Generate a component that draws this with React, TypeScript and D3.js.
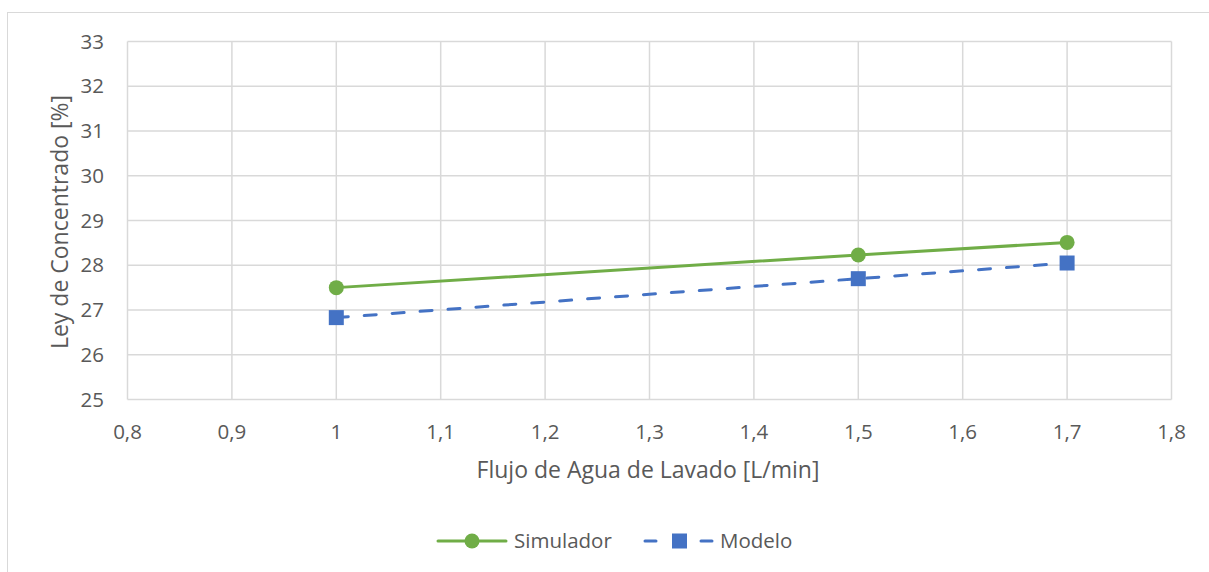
import React from "react";
import * as d3 from "d3";

const xTicks = [0.8, 0.9, 1.0, 1.1, 1.2, 1.3, 1.4, 1.5, 1.6, 1.7, 1.8];
const yTicks = [25, 26, 27, 28, 29, 30, 31, 32, 33];
const flujo = [1.0, 1.5, 1.7];
const simulador = [27.5, 28.23, 28.51];
const modelo = [26.83, 27.7, 28.05];
const xTitle = "Flujo de Agua de Lavado [L/min]";
const yTitle = "Ley de Concentrado [%]";

const W = 1209;
const H = 572;
const GREEN = "#70AD47";
const BLUE = "#4472C4";
const TEXT = "#595959";
const GRID = "#D9D9D9";
const FONT = "'Open Sans', 'Noto Sans', sans-serif";
const TICK_FS = 20.5;
const TITLE_FS = 23;

export default function App() {
  const x = d3.scaleLinear().domain([0.8, 1.8]).range([127.5, 1171.5]);
  const y = d3.scaleLinear().domain([25, 33]).range([399.5, 41.5]);
  const fmt = (v: number) => String(Math.round(v * 10) / 10).replace(".", ",");
  const line = d3
    .line<number>()
    .x((_, i) => x(flujo[i]))
    .y((d) => y(d));

  return (
    <svg
      width={W}
      height={H}
      style={{ position: "absolute", left: 0, top: 0, fontFamily: FONT }}
    >
      <rect x={0} y={0} width={W} height={H} fill="#fff" />
      <rect x={7.5} y={12.5} width={1400} height={800} fill="none" stroke={GRID} strokeWidth={1} />
      {xTicks.map((t) => (
        <line key={"gx" + t} x1={x(t)} x2={x(t)} y1={y(33)} y2={y(25)} stroke={GRID} strokeWidth={1.5} />
      ))}
      {yTicks.map((t) => (
        <line key={"gy" + t} x1={x(0.8)} x2={x(1.8)} y1={y(t)} y2={y(t)} stroke={GRID} strokeWidth={1.5} />
      ))}
      {yTicks.map((t) => (
        <text key={"ty" + t} x={104} y={y(t)} dy="0.35em" textAnchor="end" fontSize={TICK_FS} fill={TEXT}>
          {t}
        </text>
      ))}
      {xTicks.map((t) => (
        <text key={"tx" + t} x={x(t)} y={432} dy="0.35em" textAnchor="middle" fontSize={TICK_FS} fill={TEXT}>
          {fmt(t)}
        </text>
      ))}
      <text x={648} y={470} dy="0.35em" textAnchor="middle" fontSize={TITLE_FS} fill={TEXT}>
        {xTitle}
      </text>
      <text
        transform={`translate(60, 222) rotate(-90)`}
        dy="0.35em"
        textAnchor="middle"
        fontSize={TITLE_FS}
        fill={TEXT}
      >
        {yTitle}
      </text>
      <path d={line(simulador) || ""} fill="none" stroke={GREEN} strokeWidth={3} strokeLinecap="round" />
      <path
        d={line(modelo) || ""}
        fill="none"
        stroke={BLUE}
        strokeWidth={3}
        strokeLinecap="round"
        strokeDasharray="12 16"
      />
      {simulador.map((v, i) => (
        <circle key={"c" + i} cx={x(flujo[i])} cy={y(v)} r={7.5} fill={GREEN} />
      ))}
      {modelo.map((v, i) => (
        <rect key={"s" + i} x={x(flujo[i]) - 7.5} y={y(v) - 7.5} width={15} height={15} fill={BLUE} />
      ))}
      <g>
        <line x1={438} x2={506} y1={541} y2={541} stroke={GREEN} strokeWidth={3} strokeLinecap="round" />
        <circle cx={472} cy={541} r={7.5} fill={GREEN} />
        <text x={514} y={541} dy="0.35em" fontSize={TICK_FS} fill={TEXT}>Simulador</text>
        <line x1={645} x2={656} y1={541} y2={541} stroke={BLUE} strokeWidth={3} strokeLinecap="round" />
        <rect x={672} y={533.5} width={15} height={15} fill={BLUE} />
        <line x1={701} x2={712} y1={541} y2={541} stroke={BLUE} strokeWidth={3} strokeLinecap="round" />
        <text x={720} y={541} dy="0.35em" fontSize={TICK_FS} fill={TEXT}>Modelo</text>
      </g>
    </svg>
  );
}
